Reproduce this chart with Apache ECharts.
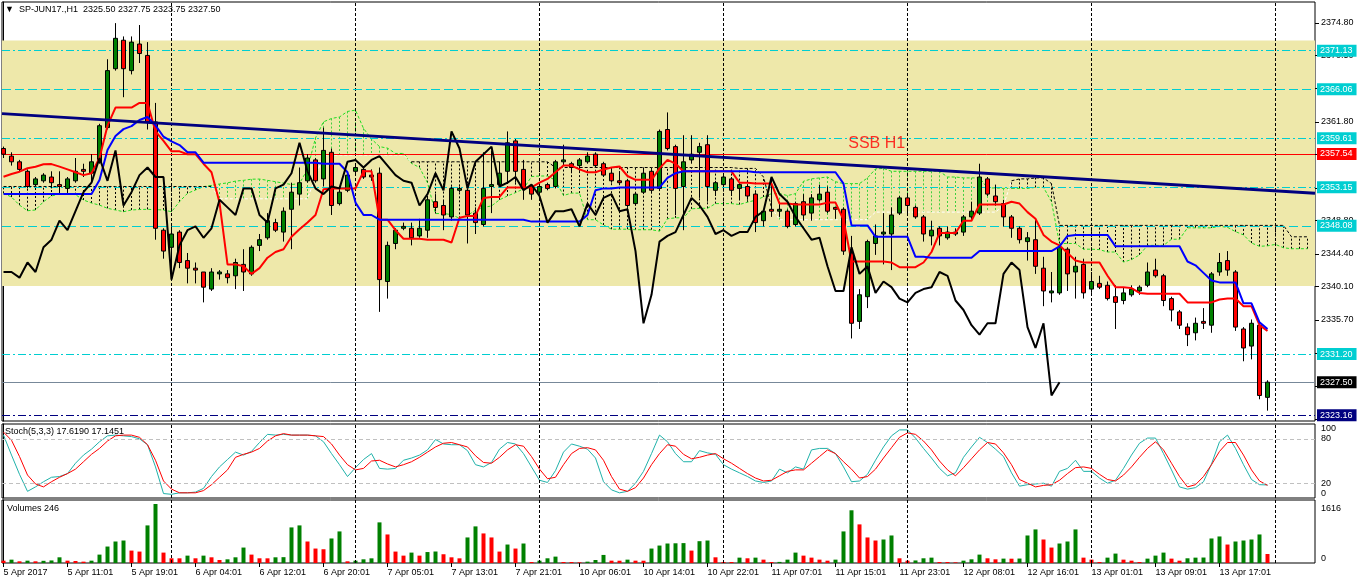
<!DOCTYPE html>
<html lang="en">
<head>
<meta charset="UTF-8">
<title>SP-JUN17 H1</title>
<script src="https://cdn.jsdelivr.net/npm/echarts@6/dist/echarts.min.js"></script>
<style>
    html, body { margin: 0; padding: 0; background: #fff; }
    #main { width: 1358px; height: 584px; }
</style>
</head>
<body>
<div id="main"></div>
<script>
    // ---- data ----
    const symbolName = 'SP-JUN17.,H1';

    const timeLabels = ['5 Apr 2017', '5 Apr 11:01', '5 Apr 19:01', '6 Apr 04:01', '6 Apr 12:01', '6 Apr 20:01',
        '7 Apr 05:01', '7 Apr 13:01', '7 Apr 21:01', '10 Apr 06:01', '10 Apr 14:01', '10 Apr 22:01',
        '11 Apr 07:01', '11 Apr 15:01', '11 Apr 23:01', '12 Apr 08:01', '12 Apr 16:01', '13 Apr 01:01',
        '13 Apr 09:01', '13 Apr 17:01'];

    const openP = [
        2358.25, 2357.25, 2356.5, 2355.25, 2353.5, 2354.0, 2354.5, 2353.5, 2353.0, 2354.0,
        2355.5, 2355.0, 2356.5, 2361.0, 2368.75, 2372.5, 2368.5, 2372.0, 2370.5, 2361.75,
        2347.5, 2345.25, 2347.25, 2343.5, 2342.5, 2342.0, 2339.75, 2341.75, 2341.75, 2341.5,
        2343.0, 2341.75, 2345.5, 2346.5, 2348.5, 2347.25, 2350.25, 2352.25, 2354.0, 2356.75,
        2354.25, 2357.75, 2351.0, 2352.75, 2355.25, 2355.5, 2354.75, 2355.0, 2340.75, 2345.75,
        2347.75, 2347.75, 2346.75, 2347.5, 2351.25, 2350.75, 2349.25, 2352.75, 2352.75, 2349.75,
        2348.25, 2353.25, 2353.5, 2355.25, 2359.25, 2355.5, 2353.25, 2352.5, 2353.5, 2353.25,
        2356.5, 2356.25, 2356.0, 2356.5, 2357.5, 2356.25, 2355.0, 2354.0, 2354.0, 2351.0,
        2352.5, 2355.25, 2353.0, 2360.75, 2358.5, 2353.25, 2356.75, 2357.75, 2358.75, 2352.75,
        2353.5, 2354.25, 2353.0, 2353.25, 2352.25, 2348.75, 2350.25, 2350.0, 2350.0, 2348.25,
        2351.25, 2349.75, 2351.5, 2352.5, 2350.5, 2350.25, 2344.5, 2335.5, 2338.75, 2345.75,
        2347.0, 2347.0, 2349.75, 2351.75, 2350.5, 2349.25, 2346.75, 2347.75, 2346.5, 2347.0,
        2347.25, 2349.25, 2349.75, 2354.25, 2352.0, 2351.0, 2349.25, 2347.75, 2346.0, 2346.25,
        2342.5, 2339.25, 2339.25, 2345.0, 2342.0, 2343.0, 2339.75, 2340.5, 2340.25, 2338.75,
        2338.25, 2339.0, 2339.5, 2340.25, 2342.25, 2341.5, 2338.5, 2336.75, 2334.75, 2334.0,
        2335.5, 2335.0, 2342.0, 2343.5, 2342.0, 2334.5, 2332.25, 2335.0, 2325.5
    ];
    const highP = [
        2358.5, 2357.75, 2356.75, 2355.5, 2354.5, 2355.0, 2355.25, 2355.25, 2354.5, 2357.0,
        2356.25, 2357.5, 2361.5, 2370.0, 2374.75, 2373.0, 2373.0, 2374.5, 2372.25, 2364.25,
        2347.75, 2348.0, 2347.5, 2344.5, 2343.25, 2342.0, 2342.5, 2342.25, 2342.25, 2343.75,
        2345.0, 2345.5, 2347.0, 2349.75, 2349.0, 2350.5, 2353.75, 2355.75, 2357.5, 2357.0,
        2361.0, 2358.25, 2353.0, 2355.25, 2356.0, 2355.75, 2355.5, 2355.75, 2346.0, 2347.75,
        2348.5, 2348.5, 2349.0, 2352.0, 2352.25, 2351.5, 2353.25, 2353.25, 2353.0, 2350.5,
        2357.75, 2358.0, 2356.5, 2360.5, 2359.5, 2356.75, 2353.5, 2353.5, 2353.75, 2356.75,
        2358.75, 2356.5, 2357.0, 2357.75, 2357.75, 2356.5, 2355.75, 2355.25, 2354.25, 2352.5,
        2355.75, 2355.5, 2360.75, 2363.0, 2358.75, 2360.0, 2360.0, 2359.0, 2360.0, 2354.0,
        2354.75, 2354.5, 2353.75, 2353.5, 2352.5, 2350.25, 2354.5, 2351.0, 2350.25, 2351.25,
        2352.25, 2352.25, 2353.5, 2353.25, 2350.5, 2350.5, 2346.75, 2339.75, 2346.25, 2348.25,
        2349.75, 2350.5, 2352.0, 2352.0, 2350.75, 2349.5, 2348.75, 2348.0, 2348.0, 2347.75,
        2349.5, 2351.25, 2356.25, 2354.5, 2353.5, 2351.5, 2349.5, 2348.0, 2347.25, 2349.0,
        2344.0, 2342.0, 2345.5, 2345.25, 2344.0, 2343.75, 2342.0, 2341.5, 2340.75, 2340.25,
        2340.0, 2340.25, 2340.25, 2343.25, 2343.75, 2341.75, 2338.75, 2337.0, 2335.25, 2336.0,
        2337.25, 2342.0, 2344.5, 2344.75, 2342.25, 2334.75, 2335.75, 2335.5, 2327.75
    ];
    const lowP = [
        2357.0, 2356.0, 2355.25, 2353.0, 2353.25, 2353.75, 2353.0, 2352.5, 2352.5, 2353.75,
        2354.5, 2353.75, 2356.25, 2360.75, 2368.5, 2365.0, 2368.0, 2369.5, 2360.75, 2346.25,
        2343.75, 2341.0, 2342.5, 2340.5, 2340.5, 2338.0, 2339.5, 2341.0, 2340.5, 2339.75,
        2339.5, 2341.5, 2344.75, 2346.25, 2347.25, 2346.0, 2345.0, 2350.75, 2353.75, 2353.75,
        2353.25, 2349.5, 2350.75, 2352.5, 2355.0, 2354.25, 2354.0, 2336.75, 2338.5, 2345.0,
        2347.5, 2345.5, 2346.5, 2346.5, 2350.0, 2347.5, 2348.75, 2352.5, 2345.75, 2347.0,
        2348.0, 2349.75, 2353.25, 2353.75, 2353.75, 2351.5, 2351.5, 2352.25, 2352.75, 2353.0,
        2356.0, 2355.0, 2355.25, 2356.25, 2355.75, 2354.5, 2353.75, 2353.5, 2350.5, 2350.75,
        2352.25, 2352.5, 2352.75, 2358.0, 2349.5, 2347.5, 2356.25, 2351.75, 2351.25, 2352.0,
        2353.25, 2352.0, 2351.5, 2351.5, 2347.25, 2348.0, 2349.25, 2349.25, 2347.75, 2348.0,
        2348.75, 2348.75, 2351.25, 2349.75, 2349.0, 2344.25, 2333.25, 2334.5, 2337.25, 2344.25,
        2343.0, 2342.25, 2349.5, 2349.75, 2349.0, 2346.0, 2345.5, 2345.5, 2346.25, 2346.75,
        2346.75, 2348.75, 2349.5, 2352.0, 2350.75, 2348.0, 2346.5, 2345.75, 2343.5, 2341.75,
        2337.5, 2338.0, 2339.0, 2339.5, 2338.5, 2338.5, 2339.25, 2339.75, 2338.25, 2334.5,
        2337.75, 2338.75, 2339.0, 2340.0, 2341.25, 2337.5, 2335.5, 2334.5, 2332.25, 2333.0,
        2334.5, 2334.0, 2341.5, 2341.5, 2334.25, 2330.25, 2330.5, 2325.25, 2323.75
    ];
    const closeP = [
        2357.5, 2356.5, 2355.5, 2353.25, 2354.25, 2354.75, 2353.75, 2353.25, 2354.25, 2355.25,
        2355.25, 2356.5, 2361.25, 2368.5, 2372.75, 2368.75, 2372.25, 2370.75, 2361.75, 2347.75,
        2344.75, 2347.0, 2343.25, 2342.5, 2342.25, 2340.0, 2342.0, 2342.0, 2341.25, 2343.25,
        2342.0, 2345.25, 2346.25, 2348.75, 2347.5, 2350.0, 2352.5, 2353.75, 2357.0, 2354.0,
        2358.0, 2350.75, 2352.5, 2354.75, 2355.75, 2354.5, 2354.5, 2341.0, 2345.5, 2347.5,
        2348.0, 2346.5, 2347.75, 2351.5, 2350.5, 2349.5, 2353.0, 2353.0, 2349.5, 2348.5,
        2353.0, 2353.5, 2355.0, 2359.0, 2355.25, 2353.0, 2352.25, 2353.25, 2353.0, 2356.5,
        2356.75, 2355.75, 2356.75, 2357.25, 2356.0, 2354.75, 2354.0, 2353.75, 2350.75, 2352.25,
        2355.0, 2352.75, 2360.5, 2358.25, 2353.0, 2356.5, 2357.5, 2358.5, 2353.25, 2353.75,
        2354.5, 2352.75, 2353.5, 2352.0, 2348.5, 2350.0, 2350.0, 2350.25, 2348.0, 2351.0,
        2349.5, 2351.75, 2352.25, 2350.0, 2350.25, 2344.75, 2335.25, 2339.0, 2346.0, 2346.75,
        2347.25, 2349.5, 2351.75, 2350.75, 2349.25, 2347.0, 2347.5, 2346.75, 2347.25, 2347.25,
        2349.25, 2350.0, 2354.5, 2352.25, 2351.25, 2349.25, 2347.75, 2346.25, 2346.5, 2342.75,
        2339.5, 2339.5, 2345.25, 2341.75, 2342.75, 2339.25, 2340.75, 2340.0, 2338.5, 2338.0,
        2339.25, 2339.75, 2340.0, 2342.0, 2341.5, 2338.25, 2337.0, 2335.0, 2333.75, 2335.25,
        2335.25, 2341.75, 2343.25, 2342.25, 2334.75, 2332.0, 2335.25, 2325.75, 2327.5
    ];

    // Ichimoku lines as drawn (red tenkan, blue kijun, cloud spans run 5 bars further)
    const tenkan = [
        2354.54, 2354.90, 2355.20, 2355.65, 2355.86, 2356.17, 2356.20, 2355.86, 2355.50, 2355.13,
        2354.75, 2355.00, 2357.00, 2361.25, 2363.63, 2363.63, 2363.63, 2364.25, 2364.25, 2360.50,
        2359.25, 2357.88, 2357.88, 2357.50, 2357.50, 2356.25, 2355.13, 2351.13, 2343.00, 2343.00,
        2342.75, 2341.75, 2342.50, 2343.88, 2344.63, 2345.00, 2346.63, 2347.63, 2348.50, 2349.50,
        2352.88, 2353.00, 2353.00, 2353.00, 2353.00, 2355.25, 2355.25, 2348.88, 2348.88, 2347.50,
        2346.38, 2346.38, 2346.38, 2346.25, 2346.25, 2346.25, 2345.88, 2349.13, 2349.38, 2349.38,
        2351.75, 2351.88, 2351.88, 2353.13, 2353.13, 2353.13, 2353.13, 2353.75, 2354.25, 2355.13,
        2356.00, 2356.00, 2355.50, 2355.13, 2355.13, 2355.50, 2355.75, 2355.88, 2354.63, 2354.13,
        2354.13, 2354.13, 2355.63, 2356.75, 2356.25, 2355.25, 2355.25, 2355.25, 2355.25, 2355.25,
        2355.25, 2355.25, 2353.75, 2353.75, 2353.63, 2353.63, 2353.63, 2351.00, 2351.00, 2350.88,
        2350.88, 2350.88, 2350.88, 2351.13, 2351.13, 2348.88, 2343.38, 2343.38, 2343.38, 2343.38,
        2343.38, 2343.25, 2342.63, 2342.63, 2342.63, 2343.25, 2344.63, 2347.13, 2347.13, 2347.13,
        2348.75, 2348.75, 2350.88, 2350.88, 2350.88, 2350.88, 2351.25, 2351.00, 2349.88, 2349.00,
        2346.88, 2346.00, 2345.50, 2344.50, 2343.50, 2343.25, 2343.25, 2343.25, 2341.50, 2340.00,
        2340.00, 2339.88, 2339.25, 2339.13, 2339.13, 2339.13, 2339.13, 2339.13, 2338.00, 2338.00,
        2338.00, 2338.00, 2338.38, 2338.50, 2338.50, 2337.50, 2337.50, 2335.00, 2334.25
    ];
    const kijun = [
        2352.26, 2352.26, 2352.26, 2352.26, 2352.26, 2352.26, 2352.26, 2352.26, 2352.26, 2352.26,
        2352.26, 2352.26, 2354.10, 2358.05, 2359.90, 2360.80, 2361.20, 2362.00, 2362.40, 2361.30,
        2359.80, 2359.20, 2358.70, 2357.75, 2357.75, 2356.38, 2356.38, 2356.38, 2356.38, 2356.38,
        2356.38, 2356.38, 2356.38, 2356.38, 2356.38, 2356.38, 2356.38, 2356.38, 2356.38, 2356.38,
        2356.25, 2356.25, 2356.25, 2355.13, 2351.13, 2349.50, 2349.50, 2348.88, 2348.88, 2348.88,
        2348.88, 2348.88, 2348.88, 2348.88, 2348.88, 2348.88, 2348.88, 2348.88, 2348.88, 2348.88,
        2348.88, 2348.88, 2348.88, 2348.88, 2348.88, 2348.88, 2348.63, 2348.63, 2348.63, 2348.63,
        2348.63, 2348.63, 2348.63, 2349.50, 2352.75, 2353.00, 2353.00, 2353.13, 2353.13, 2353.13,
        2353.13, 2353.13, 2353.13, 2354.38, 2355.00, 2355.25, 2355.25, 2355.25, 2355.25, 2355.25,
        2355.25, 2355.25, 2355.25, 2355.25, 2355.13, 2355.13, 2355.13, 2355.13, 2355.13, 2355.13,
        2355.13, 2355.13, 2355.13, 2355.13, 2355.13, 2353.63, 2348.13, 2348.13, 2348.13, 2346.63,
        2346.63, 2346.63, 2346.63, 2346.63, 2344.00, 2344.00, 2343.88, 2343.88, 2343.88, 2343.88,
        2343.88, 2343.88, 2344.75, 2344.75, 2344.75, 2344.75, 2344.75, 2344.75, 2344.75, 2344.75,
        2344.75, 2344.75, 2345.38, 2346.75, 2346.88, 2346.88, 2346.88, 2346.88, 2346.88, 2345.38,
        2345.38, 2345.38, 2345.38, 2345.38, 2345.38, 2345.38, 2345.38, 2345.38, 2343.38, 2342.88,
        2341.88, 2340.88, 2340.63, 2340.63, 2340.63, 2337.88, 2337.88, 2335.38, 2334.50
    ];
    const senkouA = [
        2352.35, 2351.86, 2350.80, 2350.06, 2350.16, 2351.25, 2352.00, 2352.26, 2352.35, 2352.17,
        2351.47, 2351.08, 2350.80, 2350.38, 2350.16, 2349.93, 2350.16, 2350.22, 2350.25, 2350.20,
        2350.16, 2349.93, 2351.25, 2352.35, 2352.79, 2353.23, 2353.40, 2353.58, 2353.73, 2353.96,
        2354.06, 2354.21, 2354.23, 2354.06, 2353.88, 2353.69, 2353.51, 2353.63, 2355.55, 2359.65,
        2361.76, 2362.20, 2362.40, 2363.13, 2363.30, 2360.90, 2359.50, 2358.50, 2358.30, 2357.60,
        2357.60, 2356.30, 2355.75, 2353.75, 2349.69, 2349.69, 2349.56, 2349.06, 2349.44, 2350.13,
        2350.50, 2350.69, 2351.50, 2352.00, 2352.44, 2352.94, 2354.56, 2354.63, 2354.63, 2354.06,
        2352.06, 2352.38, 2352.38, 2348.88, 2348.88, 2348.19, 2347.63, 2347.63, 2347.63, 2347.56,
        2347.56, 2347.56, 2347.38, 2349.00, 2349.13, 2349.13, 2350.31, 2350.38, 2350.38, 2351.00,
        2351.00, 2351.00, 2350.88, 2351.19, 2351.44, 2351.88, 2352.31, 2352.31, 2352.06, 2352.31,
        2353.94, 2354.25, 2354.38, 2354.50, 2353.88, 2353.63, 2353.63, 2353.63, 2354.38, 2355.56,
        2355.63, 2355.25, 2355.25, 2355.25, 2355.25, 2355.25, 2355.25, 2355.25, 2354.50, 2354.50,
        2354.38, 2354.38, 2354.38, 2353.06, 2353.06, 2353.00, 2353.00, 2353.00, 2353.00, 2353.13,
        2353.13, 2351.25, 2345.75, 2345.75, 2345.75, 2345.00, 2345.00, 2344.94, 2344.63, 2344.63,
        2343.31, 2343.63, 2344.25, 2345.50, 2345.50, 2345.50, 2346.31, 2346.31, 2347.81, 2347.81,
        2347.81, 2347.81, 2348.00, 2347.88, 2347.31, 2346.88, 2345.81, 2345.38, 2345.44, 2345.63,
        2345.19, 2345.06, 2345.06, 2345.06
    ];
    const senkouB = [
        2353.25, 2353.25, 2353.25, 2353.25, 2353.25, 2353.25, 2353.25, 2353.25, 2353.25, 2353.25,
        2353.25, 2353.25, 2353.25, 2353.25, 2353.25, 2353.25, 2353.25, 2353.25, 2353.25, 2353.25,
        2353.25, 2353.25, 2353.25, 2353.25, 2353.25, 2353.25, 2353.25, 2351.63, 2351.63, 2351.63,
        2351.63, 2351.63, 2351.63, 2351.63, 2351.63, 2351.63, 2351.63, 2351.63, 2351.63, 2354.50,
        2357.38, 2357.38, 2357.38, 2357.38, 2357.38, 2357.38, 2357.38, 2357.38, 2357.38, 2357.38,
        2357.38, 2356.50, 2356.50, 2356.50, 2356.50, 2356.50, 2356.50, 2356.50, 2356.50, 2356.50,
        2356.50, 2356.50, 2356.50, 2356.50, 2356.50, 2356.50, 2356.50, 2356.50, 2356.50, 2355.75,
        2355.75, 2355.75, 2355.75, 2355.75, 2355.75, 2355.75, 2355.75, 2355.75, 2355.75, 2355.75,
        2355.75, 2355.75, 2355.75, 2355.75, 2355.75, 2355.75, 2355.75, 2355.75, 2355.75, 2355.75,
        2355.75, 2355.75, 2355.63, 2355.63, 2355.63, 2354.50, 2350.50, 2348.88, 2348.88, 2348.88,
        2348.88, 2348.88, 2348.88, 2348.88, 2348.88, 2348.88, 2348.88, 2348.88, 2348.88, 2349.88,
        2349.88, 2349.88, 2349.88, 2349.88, 2349.88, 2349.88, 2349.88, 2349.88, 2349.88, 2349.88,
        2349.88, 2349.88, 2349.88, 2349.88, 2349.88, 2350.75, 2354.00, 2354.25, 2354.25, 2354.38,
        2354.38, 2353.63, 2348.13, 2348.13, 2348.13, 2348.13, 2348.13, 2348.13, 2348.13, 2348.13,
        2348.13, 2348.13, 2348.13, 2348.13, 2348.13, 2348.13, 2348.13, 2348.13, 2348.13, 2348.13,
        2348.13, 2348.13, 2348.13, 2348.13, 2348.13, 2348.13, 2348.13, 2348.13, 2348.13, 2348.13,
        2348.13, 2346.63, 2346.63, 2346.63
    ];
    const chikouShift = 26;

    const volumes = [
        64, 92, 46, 64, 46, 60, 70, 156, 64, 55,
        37, 64, 230, 451, 589, 616, 340, 313, 1030, 1616,
        285, 129, 128, 202, 129, 202, 156, 83, 101, 156,
        423, 230, 129, 128, 156, 160, 975, 1030, 589, 396,
        377, 672, 865, 46, 64, 101, 128, 1113, 782, 313,
        202, 285, 202, 300, 315, 240, 156, 128, 700, 1003,
        810, 700, 313, 506, 396, 534, 28, 64, 129, 175,
        28, 27, 18, 37, 83, 221, 64, 63, 92, 64,
        63, 396, 478, 534, 540, 545, 340, 598, 616, 156,
        28, 27, 147, 129, 147, 92, 28, 30, 92, 285,
        202, 147, 92, 64, 92, 865, 1444, 1058, 700, 616,
        644, 754, 129, 64, 70, 129, 147, 28, 27, 18,
        64, 101, 230, 129, 101, 120, 118, 122, 754, 920,
        644, 423, 534, 589, 920, 147, 92, 28, 147, 258,
        92, 64, 28, 120, 202, 285, 120, 64, 129, 147,
        150, 672, 727, 506, 589, 616, 644, 782, 246
    ];

    const stochMain = [
        85, 58, 32, 9, 15, 22, 28, 29, 33, 47,
        58, 66, 76, 84, 85, 84, 83, 80, 72, 42,
        6, 5, 7, 7, 8, 13, 29, 42, 52, 62,
        58, 63, 75, 86, 85, 86, 85, 85, 85, 84,
        76, 60, 45, 29, 41, 52, 60, 40, 39, 40,
        51, 54, 58, 65, 79, 73, 72, 72, 64, 45,
        42, 48, 66, 75, 73, 60, 42, 24, 21, 37,
        62, 73, 70, 66, 54, 22, 11, 7, 9, 20,
        36, 60, 85, 76, 60, 49, 49, 64, 61, 59,
        45, 39, 34, 29, 23, 21, 23, 39, 34, 42,
        39, 65, 67, 67, 60, 42, 22, 23, 32, 51,
        69, 84, 92, 92, 81, 67, 54, 40, 30, 34,
        55, 69, 82, 75, 66, 56, 34, 16, 18, 19,
        20, 16, 36, 40, 51, 36, 36, 27, 20, 24,
        40, 58, 74, 81, 81, 60, 38, 15, 12, 14,
        22, 46, 76, 85, 67, 45, 25, 18, 17.6190
    ];
    const stochSignal = [
        89, 78, 56, 31, 19, 15, 22, 28, 33, 39,
        49, 59, 67, 77, 84, 85, 85, 82, 72, 51,
        23, 12, 7, 7, 7, 10, 18, 28, 38, 55,
        59, 62, 67, 77, 84, 87, 85, 85, 85, 84,
        83, 73, 58, 45, 38, 40, 50, 51, 46, 42,
        45, 49, 55, 62, 69, 74, 75, 72, 69, 57,
        48, 47, 55, 65, 72, 70, 56, 39, 26, 28,
        45, 60, 67, 68, 65, 51, 29, 12, 9, 14,
        27, 45, 60, 72, 70, 59, 53, 55, 58, 60,
        53, 47, 40, 33, 27, 23, 24, 30, 36, 38,
        38, 47, 56, 65, 60, 49, 39, 27, 29, 39,
        54, 68, 82, 88, 86, 77, 65, 50, 38, 30,
        41, 53, 65, 75, 73, 61, 45, 25, 20, 15,
        17, 18, 24, 33, 41, 42, 40, 32, 25, 23,
        31, 42, 55, 67, 76, 65, 47, 29, 15, 18,
        29, 45, 63, 75, 75, 58, 38, 23, 17.1451
    ];

    const priceTicks = [2374.80, 2370.50, 2366.20, 2361.80, 2357.50, 2353.10, 2348.80,
        2344.40, 2340.10, 2335.70, 2331.40, 2327.00, 2322.70];
    const stochLevels = [80, 20];
    const stochTop = [100];
    const stochBottom = [0];
    const volumeTop = [1616];
    const volumeBottom = [0];

    // chart objects: horizontal levels, zone, trend line, text, time separators
    const levelPrices = [2371.13, 2366.06, 2359.61, 2357.54, 2353.15, 2348.08, 2331.20, 2327.50, 2323.16];
    const levelKinds = ['dashdot', 'dash', 'dashdot', 'ssb', 'dashdot', 'dash', 'dashdot', 'bid', 'low'];
    const zonePrices = [2340.15, 2372.45];
    const trendLine = [[-0.1875, 2362.84], [163.9375, 2352.36]];
    const ssbText = {bar: 105.53, price: 2358.84, text: 'SSB H1'};
    const separatorBars = [21, 44, 67, 90, 113, 136, 159];

    // ---- styling ----
    const FONT = "'Liberation Sans', Arial, sans-serif";
    const X_MIN = -0.1875, X_MAX = 163.9375;
    const kindStyle = {
        dashdot: {line: '#00CED1', type: [8, 3, 2, 3], box: '#00CED1'},
        dash: {line: '#00CED1', type: [9, 4], box: '#00CED1'},
        ssb: {line: '#FF0000', type: 'solid', box: '#FF0000'},
        bid: {line: '#778899', type: 'solid', box: '#000000'},
        low: {line: '#000080', type: [8, 3, 2, 3], box: '#000080'}
    };

    const last = closeP.length - 1;
    const idx = arr => arr.map((v, i) => [i, v]);
    const labelBars = timeLabels.map((t, k) => k * 8);

    const candleData = openP.map((o, i) => [i, o, closeP[i], lowP[i], highP[i]]);
    const chikouData = closeP.slice(chikouShift).map((v, i) => [i, v]);
    const bAbove = senkouB.map((b, i) => b >= senkouA[i]);
    const bDark = senkouB.map((b, i) => [i, (bAbove[i] || (i > 0 && bAbove[i - 1])) ? b : null]);
    const bLight = senkouB.map((b, i) => [i, (!bAbove[i] || (i > 0 && !bAbove[i - 1])) ? b : null]);
    const volumeData = volumes.map((v, i) => ({
        value: [i, v],
        itemStyle: {color: (i > 0 && v > volumes[i - 1]) ? '#008000' : '#FF0000'}
    }));

    function separators(z) {
        return {
            type: 'line', data: [], z: z, silent: true,
            markLine: {
                silent: true, symbol: ['none', 'none'], animation: false,
                label: {show: false},
                lineStyle: {color: '#000', type: [3, 2], width: 1},
                data: separatorBars.map(b => ({xAxis: b}))
            }
        };
    }

    // label-only axis on the right of a panel
    function labelAxis(grid, min, max, values, vAlign, fmt) {
        return {
            type: 'value', gridIndex: grid, position: 'right', min: min, max: max,
            axisLine: {show: false}, axisTick: {show: false}, splitLine: {show: false},
            axisLabel: {
                customValues: values, margin: 6, color: '#000', fontSize: 9, fontFamily: FONT,
                verticalAlign: vAlign, showMinLabel: true, showMaxLabel: true,
                formatter: fmt || (v => String(v))
            }
        };
    }

    // plain axis line on the right of a panel
    function lineAxis(grid, min, max) {
        return {
            type: 'value', gridIndex: grid, position: 'right', min: min, max: max,
            axisLine: {show: true, lineStyle: {color: '#000', width: 1}},
            splitLine: {show: false},
            axisTick: {show: false},
            axisLabel: {show: false}
        };
    }

    const fmt2 = v => Number(v).toFixed(2);
    const headStyle = {fontSize: 9, fontWeight: 'normal', color: '#000', fontFamily: FONT};
    const PRICE_MIN = 2322.39, PRICE_MAX = 2377.53, VOL_MAX = 1726;

    const option = {
        animation: false,
        backgroundColor: '#fff',
        textStyle: {fontFamily: FONT},
        title: [
            {
                text: '\u25BC  ' + symbolName + '  ' + [openP[last], highP[last], lowP[last], closeP[last]].map(fmt2).join(' '),
                left: 5, top: 5, padding: 0, textStyle: headStyle
            },
            {
                text: 'Stoch(5,3,3) ' + stochMain[last].toFixed(4) + ' ' + stochSignal[last].toFixed(4),
                left: 5, top: 427, padding: 0, textStyle: headStyle
            },
            {
                text: 'Volumes ' + volumes[last],
                left: 7, top: 504, padding: 0, textStyle: headStyle
            }
        ],
        grid: [
            {left: 2, top: 2, width: 1313, height: 419, show: true, borderColor: '#000', borderWidth: 1},
            {left: 2, top: 424, width: 1313, height: 74, show: true, borderColor: '#000', borderWidth: 1},
            {left: 2, top: 500, width: 1313, height: 63, show: true, borderColor: '#000', borderWidth: 1}
        ],
        xAxis: [
            {type: 'value', gridIndex: 0, min: X_MIN, max: X_MAX, show: false},
            {type: 'value', gridIndex: 1, min: X_MIN, max: X_MAX, show: false},
            {
                type: 'value', gridIndex: 2, min: X_MIN, max: X_MAX,
                axisLine: {show: false},
                splitLine: {show: false},
                axisTick: {show: true, length: 4, customValues: labelBars, lineStyle: {color: '#000'}},
                axisLabel: {
                    customValues: labelBars, align: 'left', margin: 5,
                    color: '#000', fontSize: 9, fontFamily: FONT,
                    formatter: v => timeLabels[Math.round(v / 8)]
                }
            }
        ],
        yAxis: [
            lineAxis(0, PRICE_MIN, PRICE_MAX),
            lineAxis(1, 0, 100),
            lineAxis(2, 0, VOL_MAX),
            labelAxis(0, PRICE_MIN, PRICE_MAX, priceTicks, 'middle', fmt2),
            labelAxis(1, 0, 100, stochLevels, 'middle'),
            labelAxis(1, 0, 100, stochTop, 'top'),
            labelAxis(1, 0, 100, stochBottom, 'bottom'),
            labelAxis(2, 0, VOL_MAX, volumeTop, 'top'),
            labelAxis(2, 0, VOL_MAX, volumeBottom, 'bottom')
        ],
        series: [
            // yellow zone
            {
                type: 'line', data: [], z: 0, silent: true,
                markArea: {
                    silent: true, animation: false,
                    itemStyle: {color: '#EEE8AA'},
                    data: [[{yAxis: zonePrices[0]}, {yAxis: zonePrices[1]}]]
                }
            },
            separators(1),
            // cloud hatching
            {
                type: 'custom', z: 2, silent: true, clip: true,
                data: senkouA.map((a, i) => [i, a, senkouB[i]]),
                encode: {x: 0, y: [1, 2]},
                renderItem: function (params, api) {
                    const i = api.value(0), a = api.value(1), b = api.value(2);
                    const p1 = api.coord([i, a]);
                    const p2 = api.coord([i, b]);
                    return {
                        type: 'line',
                        shape: {x1: p1[0], y1: p1[1], x2: p2[0], y2: p2[1]},
                        style: {stroke: b > a ? '#000' : '#3fcf3f', lineWidth: 1, lineDash: [2, 2]}
                    };
                }
            },
            {
                type: 'line', name: 'Senkou A', data: idx(senkouA), z: 3, symbol: 'none', silent: true,
                lineStyle: {color: '#22dd22', width: 1, type: [3, 2]}
            },
            {
                type: 'line', name: 'Senkou B', data: bDark, z: 3, symbol: 'none', silent: true,
                lineStyle: {color: '#000', width: 1, type: [3, 2]}
            },
            {
                type: 'line', name: 'Senkou B low', data: bLight, z: 3, symbol: 'none', silent: true,
                lineStyle: {color: '#fff', width: 1, type: [3, 2]}
            },
            // price scale tick marks just right of the axis line
            {
                type: 'custom', z: 1, silent: true, clip: false,
                data: priceTicks.map(v => [X_MAX, v]),
                encode: {x: 0, y: 1},
                renderItem: function (params, api) {
                    const p = api.coord([api.value(0), api.value(1)]);
                    const y = Math.round(p[1]) + 0.5;
                    return {
                        type: 'line',
                        shape: {x1: p[0], y1: y, x2: p[0] + 4, y2: y},
                        style: {stroke: '#000', lineWidth: 1}
                    };
                }
            },
            // horizontal levels with price boxes
            {
                type: 'line', data: [], z: 4, silent: true,
                markLine: {
                    silent: true, symbol: ['none', 'none'], animation: false,
                    label: {
                        show: true, position: 'end', distance: 2,
                        color: '#fff', fontSize: 9, fontFamily: FONT,
                        padding: [1, 4, 1, 3], lineHeight: 10,
                        formatter: p => fmt2(p.value)
                    },
                    data: levelPrices.map((p, k) => {
                        const s = kindStyle[levelKinds[k]];
                        return {
                            yAxis: p,
                            lineStyle: {color: s.line, type: s.type, width: 1},
                            label: {backgroundColor: s.box}
                        };
                    })
                }
            },
            {
                type: 'candlestick', name: symbolName, z: 5, silent: true,
                data: candleData,
                encode: {x: 0, y: [1, 2, 3, 4]},
                barWidth: 5,
                itemStyle: {
                    color: '#008000', color0: '#FF0000',
                    borderColor: '#000', borderColor0: '#000', borderWidth: 1
                }
            },
            {
                type: 'line', name: 'Tenkan', data: idx(tenkan), z: 6, symbol: 'none', silent: true,
                lineStyle: {color: '#FF0000', width: 2}
            },
            {
                type: 'line', name: 'Kijun', data: idx(kijun), z: 6, symbol: 'none', silent: true,
                lineStyle: {color: '#0000FF', width: 2}
            },
            {
                type: 'line', name: 'Chikou', data: chikouData, z: 6, symbol: 'none', silent: true,
                lineStyle: {color: '#000', width: 2}
            },
            {
                type: 'line', name: 'Trend', data: trendLine, z: 7, symbol: 'none', silent: true,
                lineStyle: {color: '#000080', width: 3}
            },
            {
                type: 'scatter', z: 8, silent: true,
                data: [[ssbText.bar, ssbText.price]],
                symbolSize: 1, itemStyle: {color: 'rgba(0,0,0,0)'},
                label: {
                    show: true, position: 'right', distance: 0, formatter: ssbText.text,
                    color: '#FF0000', fontSize: 16, fontFamily: FONT
                }
            },

            // stochastic panel
            Object.assign(separators(1), {xAxisIndex: 1, yAxisIndex: 1}),
            {
                type: 'line', xAxisIndex: 1, yAxisIndex: 1, data: idx(stochMain), z: 3,
                symbol: 'none', silent: true, lineStyle: {color: '#20B2AA', width: 1},
                markLine: {
                    silent: true, symbol: ['none', 'none'], animation: false, label: {show: false},
                    lineStyle: {color: '#C0C0C0', type: [4, 3], width: 1},
                    data: stochLevels.map(v => ({yAxis: v}))
                }
            },
            {
                type: 'line', xAxisIndex: 1, yAxisIndex: 1, data: idx(stochSignal), z: 4,
                symbol: 'none', silent: true, lineStyle: {color: '#FF0000', width: 1}
            },

            // volume panel
            Object.assign(separators(1), {xAxisIndex: 2, yAxisIndex: 2}),
            {
                type: 'bar', xAxisIndex: 2, yAxisIndex: 2, data: volumeData, z: 3,
                barWidth: 4, silent: true
            }
        ]
    };

    const myChart = echarts.init(document.getElementById('main'), null, {renderer: 'canvas'});
    myChart.setOption(option);
</script>
</body>
</html>
